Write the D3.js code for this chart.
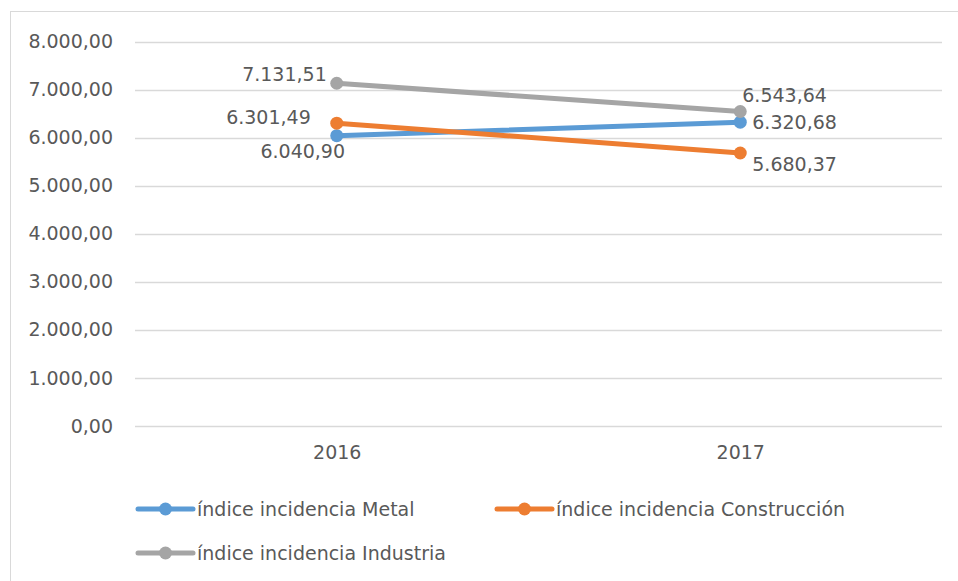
<!DOCTYPE html>
<html>
<head>
<meta charset="utf-8">
<script src="https://cdn.jsdelivr.net/npm/d3@7"></script>
<style>
  body { margin: 0; background: #fff; }
  text { font-family: "DejaVu Sans", sans-serif; fill: #595959; }
</style>
</head>
<body>
<div class="graphContainer"></div>
<script>
var years = ["2016", "2017"];
var metal = [6040.90, 6320.68];
var construccion = [6301.49, 5680.37];
var industria = [7131.51, 6543.64];
var yTicks = [0, 1000, 2000, 3000, 4000, 5000, 6000, 7000, 8000];
var seriesNames = ["índice incidencia Metal", "índice incidencia Construcción", "índice incidencia Industria"];
var colors = ["#5b9bd5", "#ed7d31", "#a5a5a5"];

var width = 958;
var height = 581;

var es = d3.formatLocale({ decimal: ",", thousands: ".", grouping: [3], currency: ["", "€"] });
var fmt = es.format(",.2f");

var svg = d3
  .select(".graphContainer")
  .append("svg")
  .attr("width", width)
  .attr("height", height);

// chart border
svg.append("rect")
  .attr("x", 10.5).attr("y", 11.5)
  .attr("width", 960).attr("height", 600)
  .style("fill", "none")
  .style("stroke", "#d9d9d9");

var xScale = d3.scalePoint().domain(years).range([135, 942]).padding(0.5);
var yScale = d3.scaleLinear().domain([0, 8000]).range([426, 41.5]);

// gridlines
svg.append("g")
  .selectAll("line")
  .data(yTicks)
  .enter()
  .append("line")
  .attr("x1", 135).attr("x2", 942)
  .attr("y1", (d) => Math.round(yScale(d)) + 0.5)
  .attr("y2", (d) => Math.round(yScale(d)) + 0.5)
  .style("stroke", "#d9d9d9")
  .style("stroke-width", 1.5);

// y axis
var yAxis = d3.axisLeft(yScale).tickValues(yTicks).tickFormat(fmt).tickSize(0).tickPadding(0);
var yAxisGroup = svg.append("g").attr("transform", "translate(113,0)").call(yAxis);
yAxisGroup.select(".domain").remove();
yAxisGroup.selectAll("text").style("font-size", "19px").style("fill", "#595959").style("font-family", "DejaVu Sans");

// x axis
var xAxis = d3.axisBottom(xScale).tickSize(0).tickPadding(0);
var xAxisGroup = svg.append("g").attr("transform", "translate(0,445)").call(xAxis);
xAxisGroup.select(".domain").remove();
xAxisGroup.selectAll("text").style("font-size", "19px").style("fill", "#595959").style("font-family", "DejaVu Sans");

var series = [metal, construccion, industria];

var line = d3.line()
  .x((d, i) => xScale(years[i]))
  .y((d) => yScale(d));

series.forEach(function (s, k) {
  svg.append("path")
    .datum(s)
    .attr("d", line)
    .style("fill", "none")
    .style("stroke", colors[k])
    .style("stroke-width", 5)
    .style("stroke-linecap", "round");
  svg.append("g")
    .selectAll("circle")
    .data(s)
    .enter()
    .append("circle")
    .attr("cx", (d, i) => xScale(years[i]))
    .attr("cy", (d) => yScale(d))
    .attr("r", 6.5)
    .style("fill", colors[k]);
});

// data labels: [dx, dy, anchor] per series per year
var labelPos = [
  [[-34, 16, "middle"], [12, 0, "start"]],
  [[-26, -6, "end"], [12, 11, "start"]],
  [[-10, -9, "end"], [2, -16, "start"]]
];

series.forEach(function (s, k) {
  svg.append("g")
    .selectAll("text")
    .data(s)
    .enter()
    .append("text")
    .attr("x", (d, i) => xScale(years[i]) + labelPos[k][i][0])
    .attr("y", (d, i) => yScale(d) + labelPos[k][i][1])
    .attr("dy", "0.35em")
    .attr("text-anchor", (d, i) => labelPos[k][i][2])
    .style("font-size", "19px")
    .text((d) => fmt(d));
});

// legend
var legendX = [138, 497, 138];
var legendY = [509, 509, 553];
var legend = svg.append("g").attr("id", "legend");
seriesNames.forEach(function (name, k) {
  var g = legend.append("g").attr("transform", "translate(" + legendX[k] + "," + legendY[k] + ")");
  g.append("line")
    .attr("x1", 0).attr("x2", 55)
    .attr("y1", 0).attr("y2", 0)
    .style("stroke", colors[k])
    .style("stroke-width", 5)
    .style("stroke-linecap", "round");
  g.append("circle")
    .attr("cx", 27.5).attr("cy", 0).attr("r", 6.5)
    .style("fill", colors[k]);
  g.append("text")
    .attr("x", 59).attr("y", 0)
    .attr("dy", "0.35em")
    .style("font-size", "19px")
    .text(name);
});
</script>
</body>
</html>
